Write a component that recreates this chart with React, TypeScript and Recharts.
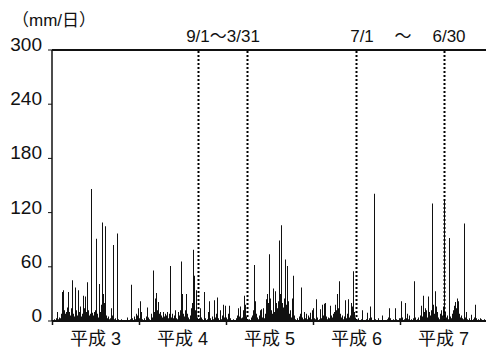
import { Bar, BarChart, ReferenceLine, XAxis, YAxis } from "recharts";

// daily rainfall (mm/日), one value per ~4 days, calendar years 平成3..平成7
const rainH3 = [
  0, 0, 2, 0, 3, 10, 2, 4, 3, 8, 32, 34, 12, 8, 10, 15, 32, 10, 6, 14, 45, 8, 5, 37, 12, 6, 34, 10, 16, 5,
  8, 28, 14, 27, 10, 43, 12, 6, 8, 146, 9, 6, 10, 12, 91, 8, 4, 41, 10, 18, 109, 30, 20, 105, 6, 3, 5, 2, 3, 14,
  6, 84, 2, 3, 0, 97, 2, 0, 0, 2, 0, 0, 0, 0, 0, 4, 0, 0, 2, 40, 3, 0, 5, 2, 8, 6, 14,
];
const rainH4 = [
  3, 22, 10, 2, 0, 3, 0, 5, 15, 4, 2, 0, 8, 4, 56, 10, 25, 31, 12, 21, 8, 10, 6, 4, 10, 5, 8, 6, 10, 3,
  8, 61, 4, 8, 3, 6, 12, 3, 2, 10, 6, 12, 66, 30, 8, 5, 12, 30, 8, 4, 2, 6, 14, 20, 79, 50, 12, 34, 4, 2,
  3, 14, 4, 2, 0, 32, 3, 0, 2, 10, 22, 3, 0, 5, 2, 23, 4, 8, 26, 3, 0, 12, 2, 6, 18, 4, 17,
];
const rainH5 = [
  4, 2, 8, 17, 3, 0, 0, 2, 0, 0, 3, 6, 14, 5, 16, 3, 4, 12, 28, 18, 5, 2, 0, 2, 0, 4, 6, 12, 62, 22,
  8, 4, 2, 6, 12, 13, 4, 14, 3, 8, 24, 30, 20, 74, 25, 12, 8, 36, 10, 33, 20, 14, 22, 89, 30, 106, 20, 15, 25, 68,
  18, 61, 22, 8, 12, 4, 25, 50, 6, 2, 0, 3, 0, 5, 8, 37, 4, 2, 10, 3, 8, 2, 6, 4, 9, 2, 12,
];
const rainH6 = [
  14, 3, 2, 24, 4, 0, 2, 13, 3, 18, 6, 19, 20, 5, 2, 4, 3, 17, 6, 4, 8, 10, 18, 12, 30, 14, 44, 8, 4, 6,
  2, 5, 23, 3, 8, 24, 4, 6, 20, 16, 55, 10, 4, 2, 0, 3, 0, 0, 2, 12, 0, 0, 0, 2, 9, 0, 3, 16, 4, 0,
  0, 141, 2, 0, 0, 3, 0, 0, 0, 6, 0, 0, 0, 0, 2, 4, 14, 3, 0, 0, 2, 0, 14, 2, 0, 0, 3,
];
const rainH7 = [
  3, 22, 4, 0, 2, 20, 3, 8, 2, 6, 0, 2, 0, 3, 44, 4, 0, 2, 4, 0, 6, 17, 5, 28, 10, 14, 12, 4, 27, 10,
  6, 12, 130, 18, 8, 33, 16, 10, 4, 2, 8, 12, 6, 16, 134, 10, 4, 6, 2, 92, 5, 3, 8, 12, 17, 21, 14, 25, 22, 8,
  4, 6, 3, 2, 108, 4, 10, 2, 0, 3, 0, 7, 0, 2, 4, 18, 3, 0, 2, 0, 3, 2, 0, 0, 2, 0, 0,
];

const yearLabels = ["平成 3", "平成 4", "平成 5", "平成 6", "平成 7"];
const yTicks = [0, 60, 120, 180, 240, 300];
// steps of 9/1, 3/31 (平成4-5) and 7/1, 6/30 (平成6-7)
const periodMarks = [146, 195, 304, 392];

const years = [rainH3, rainH4, rainH5, rainH6, rainH7];
const STEPS = rainH3.length;
const data = years.flatMap((arr, y) => arr.map((v, i) => ({ step: y * STEPS + i, rain: v })));
const yearStarts = years.map((_, i) => i * STEPS);
const yearMids = years.map((_, i) => i * STEPS + Math.floor(STEPS / 2));

const FONT = "'Liberation Sans', Arial, 'Noto Sans CJK JP', sans-serif";
const INK = "#111";

function YearTick({ x, y, payload }: any) {
  const k = yearMids.indexOf(payload.value);
  if (k >= 0) {
    return (
      <text x={x} y={y + 24} textAnchor="middle" fontSize={18} fontFamily={FONT} fill={INK}>
        {yearLabels[k]}
      </text>
    );
  }
  return <line x1={x} x2={x} y1={y} y2={y + 4} stroke={INK} strokeWidth={1.5} />;
}

function RainTick({ x, y, payload }: any) {
  return (
    <text x={x} y={y + 1} textAnchor="end" fontSize={19} fontFamily={FONT} fill={INK}>
      {payload.value}
    </text>
  );
}

export default function App() {
  return (
    <div
      style={{
        position: "fixed",
        left: 0,
        top: 0,
        width: 486,
        height: 352,
        overflow: "hidden",
        background: "#fff",
      }}
    >
      <BarChart
        width={487}
        height={352}
        data={data}
        margin={{ top: 50, right: 0, left: 0, bottom: 0 }}
        barCategoryGap={0}
        barGap={0}
      >
        <XAxis
          dataKey="step"
          ticks={[...yearStarts, ...yearMids]}
          interval={0}
          tickLine={false}
          tickSize={0}
          tickMargin={0}
          height={31}
          axisLine={{ stroke: INK, strokeWidth: 2 }}
          tick={<YearTick />}
        />
        <YAxis
          domain={[0, 300]}
          ticks={yTicks}
          width={52}
          tickSize={4}
          tickMargin={6}
          axisLine={{ stroke: INK, strokeWidth: 1.5 }}
          tickLine={{ stroke: INK }}
          tick={<RainTick />}
        />
        <ReferenceLine y={300} stroke={INK} strokeWidth={2} />
        {periodMarks.map((m) => (
          <ReferenceLine key={m} x={m} stroke="#000" strokeWidth={2} strokeDasharray="2 2" />
        ))}
        <Bar dataKey="rain" fill={INK} isAnimationActive={false} />
      </BarChart>
      <svg
        width={486}
        height={352}
        style={{ position: "absolute", left: 0, top: 0, pointerEvents: "none" }}
        fontFamily={FONT}
        fill={INK}
      >
        <text x={12} y={26} fontSize={17}>（mm/日）</text>
        <text x={223} y={42} fontSize={17} textAnchor="middle">9/1～3/31</text>
        <text x={362} y={42} fontSize={17} textAnchor="middle">7/1</text>
        <text x={403} y={42} fontSize={17} textAnchor="middle">～</text>
        <text x={449} y={42} fontSize={17} textAnchor="middle">6/30</text>
      </svg>
    </div>
  );
}
